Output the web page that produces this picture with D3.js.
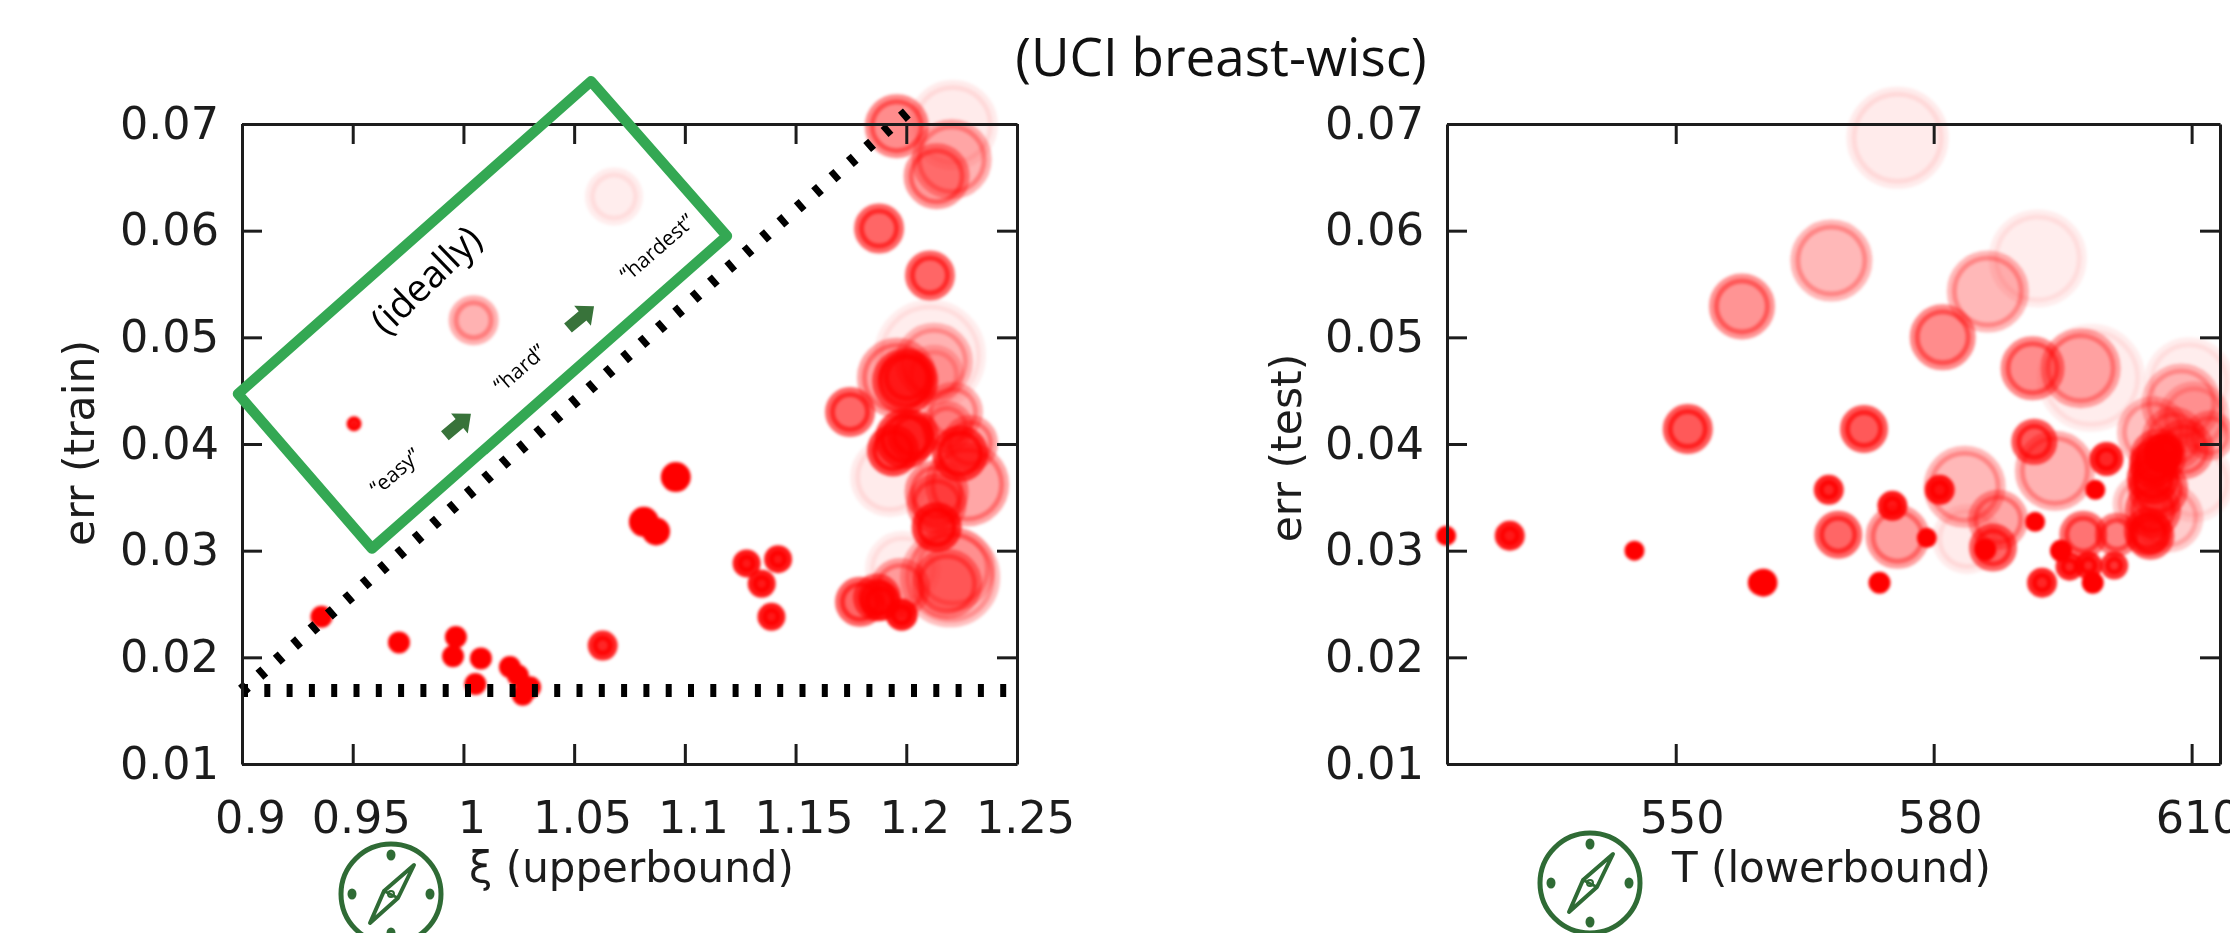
<!DOCTYPE html>
<html><head><meta charset="utf-8">
<script src="https://cdn.jsdelivr.net/npm/d3@7/dist/d3.min.js"></script>
<style>html,body{margin:0;padding:0;background:#fff;overflow:hidden}</style>
</head><body><svg id="c" width="2230" height="933"></svg>
<script>
// ---- Left panel: upper bound xi vs training error
const xiValues = [.9359,.9709,.9966,.9953,1.0079,1.0054,1.021,1.0246,1.0301,1.0268,1.0629,1.1347,1.1391,1.1279,1.1421,1.0815,1.087,1.0959,
 1.2210,1.2107,1.1927,1.1985,1.1958,1.2205,1.2125,1.2275,1.2198,1.2211,1.1957,1.2137,1.2125,1.2211,1.2288,1.2184,1.2137,1.2137,1.2184,1.1972,
 1.1877,1.2107,1.1958,1.1995,1.2003,1.1746,1.1994,1.194,1.203,1.2243,1.2137,1.1791,1.1868,1.1881,1.1979,
 .9506,1.0046,1.068];
const errTrain = [.0238,.0214,.0219,.0201,.0199,.0175,.0191,.0183,.0172,.0165,.0211,.0269,.0238,.0288,.0292,.0327,.0318,.0369,
 .0699,.0483,.0369,.0283,.0462,.0667,.0477,.0362,.0275,.0283,.0698,.0651,.0465,.043,.0401,.0416,.0355,.0344,.0269,.0265,
 .0602,.0558,.0462,.0459,.0462,.043,.0405,.0394,.0408,.0391,.0322,.0252,.0256,.0253,.024,
 .0419,.0516,.0632];
const hardTrain = [11,11,11,11,11,11,11,11,11,11,15,14,14,14,14,15,14,15,
 45,56,40,38,40,40,39,42,50,42,32,33,30,30,28,26,32,30,35,30,
 25,25,40,33,28,25,30,26,26,28,25,25,24,20,16,
 7.5,25,29];
const shadeTrain = [1,1,1,1,1,1,1,1,1,1,.85,.9,.9,.9,.9,1,1,1,
 .08,.07,.08,.07,.2,.3,.25,.35,.25,.25,.45,.4,.2,.3,.35,.3,.4,.4,.4,.35,
 .6,.6,.2,.6,.6,.6,.7,.7,.6,.7,.75,.6,.6,.8,.9,
 1,.3,.07];

// ---- Right panel: lower bound T vs test error
const tValues = [575.8,592.1,598.3,609.7,610.3,568.1,586.3,583.6,594.1,597.1,583.9,557.7,581.05,591.5,575.8,
 608.8,610.3,605.5,607.9,604.3,607.3,587.5,
 551.4,571.9,591.7,568.9,586.9,597.4,601.3,605.2,609.1,606.1,605.5,605.5,606.1,605.5,604.9,612.1,
 600.1,567.8,580.7,575.2,592.6,595.8,598,601,560.2,559.9,606.7,
 598.8,591.8,579.2,586,523.3,545.2,573.7,594.8,598.5,530.7];
const errTest = [.0687,.0574,.0462,.0458,.0364,.0572,.0543,.036,.0375,.0471,.0311,.0529,.05,.0471,.0313,
 .0438,.0425,.0411,.0405,.0344,.0331,.0329,
 .0414,.0414,.0402,.0315,.0303,.0315,.0315,.0314,.0395,.0388,.0381,.0368,.0358,.0338,.0318,.0408,
 .0386,.0357,.0357,.0342,.027,.0285,.0286,.0286,.027,.027,.0391,
 .0357,.0327,.0312,.0301,.0314,.03,.027,.03,.027,.0314];
const hardTest = [51,49,54,45,40,41,41,41,40,40,35,33,33,32,32,
 40,36,36,32,30,35,30,
 25,24,23,24,24,24,22,24,30,28,24,26,30,28,24,25,
 17,15,15,15,15,14,14,14,14,13,20,
 10,10,10,11,10,10,11,11,11,15];
const shadeTest = [.08,.07,.07,.07,.08,.28,.28,.28,.3,.32,.08,.42,.45,.45,.38,
 .25,.2,.25,.3,.2,.2,.35,
 .65,.65,.65,.6,.6,.55,.5,.6,.4,.5,.7,.7,.5,.5,.6,.3,
 .85,.85,.9,.9,.85,.85,.85,.8,1,1,.9,
 1,1,1,1,1,1,1,1,1,.9];

// ---- Axes
const xiTicks = [.9,.95,1,1.05,1.1,1.15,1.2,1.25];
const tTicks = [550,580,610];
const errTicks = [.01,.02,.03,.04,.05,.06,.07];
const xiDomain = [.9,1.25], tDomain = [523.4,613.3], errDomain = [.01,.07];

// ---- Reference lines (data coordinates)
const floorXi = [.9,1.25], floorErr = [.0169,.0169];
const diagXi = [.9,1.204], diagErr = [.0169,.0717];

// ---- Annotation (data coordinates of the left panel)
const boxXi = [1.0576,.8982,.9587,1.119];
const boxErr = [.074,.0447,.0302,.0595];
const legendTexts = ["(ideally)","\u201Ceasy\u201D","\u201Chard\u201D","\u201Chardest\u201D"];
const legendXi = [.9831,.9691,1.0254,1.0874];
const legendErr = [.0554,.0374,.0471,.0584];
const arrowXi = [.9975,1.0531];
const arrowErr = [.0418,.0519];

const svg = d3.select("#c");
const defs = svg.append("defs");
defs.append("filter").attr("id","soft").attr("filterUnits","userSpaceOnUse").attr("x",0).attr("y",0).attr("width",2230).attr("height",933)
  .append("feGaussianBlur").attr("stdDeviation",1.6);
defs.append("filter").attr("id","fine").attr("filterUnits","userSpaceOnUse").attr("x",0).attr("y",0).attr("width",2230).attr("height",933)
  .append("feGaussianBlur").attr("stdDeviation",.7);

const FONT = "'DejaVu Sans'", INK = "#1c1c1c";
const plotTop = 124, plotBottom = 764;
const yScale = d3.scaleLinear(errDomain,[plotBottom,plotTop]);
const rScale = d3.scaleLinear([0,60],[0,60]);
const STROKE = 10;

function panel(cfg){
  const {x,xs,ys,hard,shade,xTicks,yLabel,xLabel,xLabelX,yLabelX,xFmt,labelShift,lines} = cfg;
  const [x0,x1] = x.range();
  // markers are under the frame
  const rows = d3.range(xs.length).map(i=>({x:xs[i],y:ys[i],h:hard[i],s:shade[i]}));
  svg.append("g").attr("filter","url(#soft)").selectAll("circle").data(rows).join("circle")
    .attr("cx",d=>x(d.x)).attr("cy",d=>yScale(d.y))
    .attr("r",d=>Math.max(rScale(d.h)-STROKE/2,.5))
    .attr("fill","#ff0000").attr("stroke","#ff0000").attr("stroke-width",STROKE)
    .attr("fill-opacity",d=>d.s).attr("stroke-opacity",d=>d.s);

  const frame = svg.append("g").attr("filter","url(#fine)");
  if(lines) lines(frame);
  const style = g=>{
    g.selectAll("path,line").attr("stroke",INK).attr("stroke-width",3);
    g.selectAll("text").attr("font-family",FONT).attr("font-size",44.5).attr("fill",INK);
  };
  const inner = 20;
  frame.append("g").attr("transform",`translate(0,${plotBottom})`)
    .call(d3.axisBottom(x).tickValues(xTicks).tickFormat(xFmt).tickSizeInner(-inner).tickSizeOuter(0).tickPadding(37))
    .call(style).call(g=>g.selectAll("text").attr("dx",labelShift));
  frame.append("g").attr("transform",`translate(0,${plotTop})`)
    .call(d3.axisTop(x).tickValues(xTicks).tickFormat("").tickSizeInner(-inner).tickSizeOuter(0)).call(style);
  frame.append("g").attr("transform",`translate(${x0},0)`)
    .call(d3.axisLeft(yScale).tickValues(errTicks).tickFormat(d3.format(".2f")).tickSizeInner(-inner).tickSizeOuter(0).tickPadding(23))
    .call(style);
  frame.append("g").attr("transform",`translate(${x1},0)`)
    .call(d3.axisRight(yScale).tickValues(errTicks).tickFormat("").tickSizeInner(-inner).tickSizeOuter(0)).call(style);
  frame.append("text").attr("x",xLabelX).attr("y",882).attr("font-family",FONT).attr("font-size",42).attr("fill",INK).text(xLabel);
  frame.append("text").attr("transform",`translate(${yLabelX},${cfg.yLabelY}) rotate(-90)`).attr("text-anchor","middle")
    .attr("font-family",FONT).attr("font-size",42.5).attr("fill",INK).text(yLabel);
}

const xLeft = d3.scaleLinear(xiDomain,[242,1017]);
const xRight = d3.scaleLinear(tDomain,[1447,2220]);

panel({x:xLeft,xs:xiValues,ys:errTrain,hard:hardTrain,shade:shadeTrain,xTicks:xiTicks,
  xFmt:d=>String(d),labelShift:8,xLabel:"\u03BE (upperbound)",xLabelX:469,yLabel:"err (train)",yLabelX:94,yLabelY:443,
  lines:g=>{
    const line = d3.line().x(d=>xLeft(d[0])).y(d=>yScale(d[1]));
    g.append("path").attr("d",line(d3.zip(floorXi,floorErr))).attr("fill","none").attr("stroke","#000").attr("stroke-width",13).attr("stroke-dasharray","6 16.3");
    g.append("path").attr("d",line(d3.zip(diagXi,diagErr))).attr("fill","none").attr("stroke","#000").attr("stroke-width",12).attr("stroke-dasharray","6.5 16.5");
  }});
panel({x:xRight,xs:tValues,ys:errTest,hard:hardTest,shade:shadeTest,xTicks:tTicks,
  xFmt:d=>String(d),labelShift:6,xLabel:"T (lowerbound)",xLabelX:1672,yLabel:"err (test)",yLabelX:1301,yLabelY:448});

// Title
svg.append("text").attr("x",1221).attr("y",76).attr("text-anchor","middle").attr("font-family","'Open Sans'").attr("font-size",53).attr("fill","#111").text("(UCI breast-wisc)");

// Green annotation box
const boxPts = d3.zip(boxXi,boxErr).map(d=>[xLeft(d[0]),yScale(d[1])]);
svg.append("path").attr("d",d3.line()(boxPts)+"Z").attr("fill","none").attr("stroke","#34a853").attr("stroke-width",10.5).attr("stroke-linejoin","round");

// Annotation labels
legendTexts.forEach((t,i)=>{
  svg.append("text").attr("transform",`translate(${xLeft(legendXi[i])},${yScale(legendErr[i])}) rotate(${i==0?-44:-41})`)
    .attr("text-anchor","middle").attr("dy","0.35em").attr("font-family","'Open Sans'").attr("font-size",i==0?38:21).attr("fill","#000").text(t);
});
// Annotation arrows
arrowXi.forEach((v,i)=>{
  svg.append("path").attr("transform",`translate(${xLeft(v)},${yScale(arrowErr[i])}) rotate(-40)`)
    .attr("d","M-17,-6H2V-13L17,0L2,13V6H-17Z").attr("fill","#38733a");
});

// Compass icons
function compass(cx,cy){
  const g = svg.append("g").attr("transform",`translate(${cx},${cy})`).attr("fill","none").attr("stroke","#2f6b35");
  g.append("circle").attr("r",50).attr("stroke-width",5);
  [[0,-39],[0,39],[-39,0],[39,0]].forEach(p=>g.append("ellipse").attr("cx",p[0]).attr("cy",p[1]).attr("rx",4.5).attr("ry",5.5).attr("fill","#2f6b35").attr("stroke","none"));
  g.append("path").attr("d","M23,-29L7,4L-21,29L-7,-3Z").attr("stroke-width",4).attr("stroke-linejoin","round");
  g.append("path").attr("d","M-7,-3L7,4").attr("stroke-width",3);
  g.append("circle").attr("r",3).attr("stroke-width",2);
}
compass(391,894);
compass(1590,883);
</script></body></html>
